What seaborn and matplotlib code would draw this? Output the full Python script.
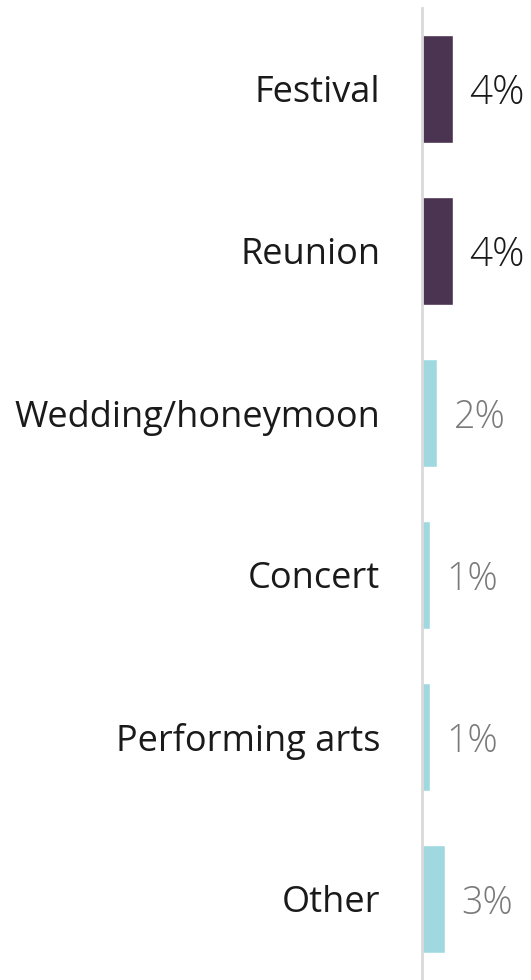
import pandas as pd
import numpy as np
import seaborn as sns
import matplotlib.pyplot as plt

# data
categories = ['Festival', 'Reunion', 'Wedding/honeymoon', 'Concert', 'Performing arts', 'Other']
values = [4.0, 4.0, 2.0, 1.0, 1.0, 3.0]
labels = ['4%', '4%', '2%', '1%', '1%', '3%']
highlight = [True, True, False, False, False, False]

DARK = '#4b3352'
LIGHT = '#9fd9df'

sns.set_theme(style='white')
plt.rcParams['font.family'] = ['Open Sans', 'DejaVu Sans']

df = pd.DataFrame({'Category': categories, 'Value': values, 'Group': ['hi' if h else 'lo' for h in highlight]})

fig = plt.figure(figsize=(5.31, 9.80), dpi=100)
ax = fig.add_axes([422 / 531, 0, 109 / 531, 972 / 980])

sns.barplot(data=df, x='Value', y='Category', hue='Group', palette={'hi': DARK, 'lo': LIGHT},
            dodge=False, width=0.67, saturation=1, legend=False, ax=ax, orient='h')

ax.set_xlim(0, 109 / 7.7)
ax.set_ylim(5.5, -0.5)
ax.set_xlabel('')
ax.set_ylabel('')
ax.set_xticks([])
for s in ['top', 'right', 'bottom']:
    ax.spines[s].set_visible(False)
ax.spines['left'].set_color('#d9d9d9')
ax.spines['left'].set_linewidth(2)

ax.tick_params(axis='y', length=0, pad=30, labelsize=26, labelcolor='#1a1a1a')

# value labels next to each bar
for i, (v, lab, h) in enumerate(zip(values, labels, highlight)):
    if h:
        ax.text(v + 2.1, i + 0.03, lab, va='center', ha='left', fontsize=29, color='#1a1a1a', fontweight='light')
    else:
        ax.text(v + 2.1, i + 0.03, lab, va='center', ha='left', fontsize=27, color='#7a7a7a', fontweight='light')

fig.savefig('out.png', dpi=100)
